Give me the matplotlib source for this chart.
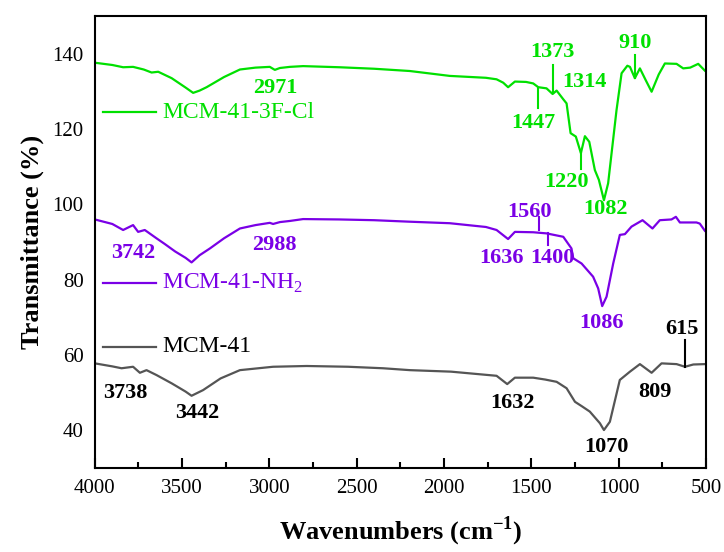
import matplotlib.pyplot as plt
from matplotlib.ticker import MultipleLocator

plt.rcParams['font.family'] = ['Liberation Serif', 'DejaVu Serif']
plt.rcParams['mathtext.fontset'] = 'custom'
plt.rcParams['mathtext.rm'] = 'Liberation Serif'
plt.rcParams['mathtext.bf'] = 'Liberation Serif:bold'

# MCM-41-3F-Cl
wn_cl = [4000, 3900, 3838, 3781, 3720, 3675, 3637, 3560, 3480, 3437, 3400, 3360, 3260, 3169, 3080,
         2998, 2969, 2940, 2883, 2807, 2600, 2400, 2196, 1967, 1760, 1699, 1661, 1633, 1594, 1530,
         1489, 1460, 1413, 1378, 1355, 1317, 1298, 1275, 1245, 1216, 1193, 1168, 1136, 1113, 1084,
         1060, 1012, 983, 950, 935, 907, 878, 845, 811, 770, 735, 668, 630, 590, 544, 506]
t_cl = [137.6, 137.0, 136.4, 136.5, 135.8, 135.0, 135.2, 133.5, 131.0, 129.6, 130.2, 131.1, 133.8, 135.8, 136.3,
        136.5, 135.7, 136.2, 136.5, 136.7, 136.4, 136.0, 135.4, 134.1, 133.6, 133.2, 132.3, 131.1, 132.6, 132.5,
        132.1, 131.1, 130.8, 129.3, 130.2, 127.9, 126.8, 118.9, 118.0, 113.6, 118.1, 116.6, 109.1, 106.5, 101.1,
        105.6, 125.0, 134.8, 136.8, 136.5, 133.5, 136.1, 133.0, 129.9, 134.5, 137.4, 137.3, 136.1, 136.3, 137.3, 135.5]

# MCM-41-NH2
wn_nh = [4000, 3900, 3838, 3781, 3752, 3714, 3647, 3600, 3540, 3480, 3446, 3400, 3341, 3260, 3169,
         3080, 2998, 2979, 2940, 2883, 2807, 2600, 2400, 2196, 1967, 1760, 1699, 1633, 1594, 1489,
         1413, 1317, 1270, 1260, 1212, 1146, 1117, 1094, 1069, 1031, 993, 964, 926, 863, 806,
         764, 697, 672, 649, 554, 535, 506]
t_nh = [96.0, 94.8, 93.2, 94.5, 92.7, 93.2, 91.0, 89.5, 87.5, 85.8, 84.6, 86.5, 88.3, 91.0, 93.6,
        94.5, 95.1, 94.8, 95.3, 95.6, 96.1, 96.0, 95.8, 95.4, 95.0, 94.0, 93.2, 90.8, 92.7, 92.6,
        92.3, 91.4, 88.3, 85.7, 84.3, 80.8, 77.7, 73.0, 75.5, 84.3, 91.9, 92.1, 94.1, 95.8, 93.6,
        95.8, 96.0, 96.7, 95.2, 95.2, 94.9, 93.0]

# MCM-41
wn_m = [4000, 3900, 3847, 3781, 3742, 3704, 3647, 3560, 3480, 3446, 3380, 3280, 3169, 2979, 2787,
        2550, 2349, 2196, 1960, 1699, 1638, 1594, 1489, 1420, 1355, 1298, 1250, 1210, 1165, 1107,
        1084, 1050, 993, 935, 878, 811, 754, 668, 620, 572, 506]
t_m = [57.8, 57.0, 56.5, 56.9, 55.3, 56.0, 54.7, 52.5, 50.3, 49.2, 50.7, 53.8, 56.0, 56.9, 57.1,
       56.9, 56.5, 56.0, 55.6, 54.5, 52.3, 54.0, 54.0, 53.5, 52.9, 51.2, 47.6, 46.4, 45.0, 41.9,
       40.1, 42.3, 53.4, 55.6, 57.6, 55.3, 57.8, 57.6, 56.9, 57.5, 57.6]

green = '#00E000'
purple = '#7A00E6'
gray = '#555555'

# peak labels: (text, x, y)
labels_cl = [('2971', 2969, 130.9), ('1373', 1377, 140.4), ('1314', 1193, 132.5), ('1447', 1491, 121.6),
             ('1220', 1296, 105.9), ('1082', 1073, 98.8), ('910', 907, 142.8)]
labels_nh = [('3742', 3782, 87.1), ('2988', 2969, 89.2), ('1560', 1508, 98.0), ('1636', 1669, 85.7),
             ('1400', 1377, 85.7), ('1086', 1096, 68.5)]
labels_m = [('3738', 3828, 49.9), ('3442', 3416, 44.6), ('1632', 1606, 47.3), ('1070', 1067, 35.6),
            ('809', 792, 50.2), ('615', 638, 66.9)]

# marker sticks: (x, y0, y1)
sticks_cl = [(1462, 125.6, 130.9), (1378, 129.6, 137.0), (1216, 109.4, 113.6), (907, 133.5, 139.6)]
sticks_nh = [(1455, 93.2, 96.6), (1407, 89.2, 92.4)]
sticks_m = [(621, 56.9, 64.0)]

fig = plt.figure(figsize=(7.24, 5.52), dpi=100)
ax = fig.add_axes([0.131, 0.152, 0.844, 0.819])

series = [(wn_cl, t_cl, green, labels_cl, sticks_cl, 'MCM-41-3F-Cl', 0.787),
          (wn_nh, t_nh, purple, labels_nh, sticks_nh, 'MCM-41-NH$_2$', 0.409),
          (wn_m, t_m, gray, labels_m, sticks_m, 'MCM-41', 0.268)]

for wn, t, c, labs, sticks, name, ly in series:
    ax.plot(wn, t, color=c, lw=1.6)
    tc = 'black' if c == gray else c
    for s, x, y in labs:
        ax.text(x, y, s, color=tc, fontsize=16, fontweight='bold', ha='center', va='center')
    for x, y0, y1 in sticks:
        ax.plot([x, x], [y0, y1], color=tc, lw=1.5)
    ax.plot([0.013, 0.100], [ly, ly], color=c, lw=1.6, transform=ax.transAxes)
    ax.text(0.110, ly, name, color=tc if c != gray else 'black', fontsize=17,
            ha='left', va='center', transform=ax.transAxes)

ax.set_xlim(4000, 500)
ax.set_ylim(30, 150)
ax.xaxis.set_major_locator(MultipleLocator(500))
ax.xaxis.set_minor_locator(MultipleLocator(250))
ax.set_yticks([40, 60, 80, 100, 120, 140])
ax.tick_params(axis='x', which='major', direction='in', length=7, width=1.5, labelsize=15, pad=8)
ax.tick_params(axis='x', which='minor', direction='in', length=4, width=1.5)
ax.tick_params(axis='y', length=0, labelsize=15, pad=8)
for sp in ax.spines.values():
    sp.set_linewidth(1.5)

ax.set_xlabel('Wavenumbers (cm$^{\\mathbf{-1}}$)', fontsize=19, fontweight='bold', labelpad=12)
ax.set_ylabel('Transmittance (%)', fontsize=19, fontweight='bold', labelpad=6)

fig.savefig('out.png', dpi=100)
